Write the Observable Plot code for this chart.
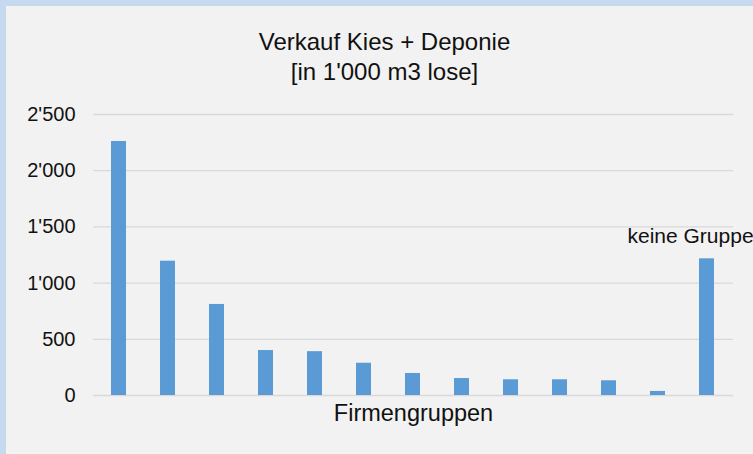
<!DOCTYPE html>
<html>
<head>
<meta charset="utf-8">
<script src="https://cdn.jsdelivr.net/npm/d3@7"></script>
<script src="https://cdn.jsdelivr.net/npm/@observablehq/plot@0.6"></script>
<style>
  html, body { margin: 0; padding: 0; background: #f2f2f2; }
  #wrap { position: relative; width: 753px; height: 454px; overflow: hidden; background: #f2f2f2; }
  #wrap svg { position: absolute; left: 0; top: 0; }
  .bt { position: absolute; left: 0; top: 0; width: 753px; height: 6px; background: #c5d9f1; }
  .bl { position: absolute; left: 0; top: 0; width: 6px; height: 454px; background: #c5d9f1; }
</style>
</head>
<body>
<div id="wrap"></div>
<script>
const groups = ["Gruppe 1", "Gruppe 2", "Gruppe 3", "Gruppe 4", "Gruppe 5", "Gruppe 6", "Gruppe 7", "Gruppe 8", "Gruppe 9", "Gruppe 10", "Gruppe 11", "Gruppe 12", "keine Gruppe"];
const values = [2260, 1195, 810, 400, 390, 287, 196, 151, 140, 140, 131, 36, 1216];
const yTicks = [0, 500, 1000, 1500, 2000, 2500];
const titleLines = ["Verkauf Kies + Deponie", "[in 1'000 m3 lose]"];
const xLabel = "Firmengruppen";
const annotation = "keine Gruppe";

const data = groups.map((g, i) => ({group: g, value: values[i]}));
const fmt = d3.formatLocale({decimal: ".", thousands: "'", grouping: [3], currency: ["", ""]}).format(",");

const chart = Plot.plot({
  width: 753,
  height: 454,
  marginLeft: 93,
  marginRight: 20,
  marginTop: 114,
  marginBottom: 59,
  style: {fontFamily: "'Liberation Sans', Arial, sans-serif", fontSize: "20px", color: "#111", background: "transparent"},
  x: {domain: groups, paddingInner: 0.69, paddingOuter: 0.345, axis: null},
  y: {domain: [0, 2500]},
  marks: [
    Plot.ruleY(yTicks, {stroke: "#d9d9d9", strokeWidth: 1.3}),
    Plot.axisY({ticks: yTicks, tickFormat: fmt, tickSize: 0, tickPadding: 18, fontSize: 20, fill: "#111", label: null}),
    Plot.barY(data, {x: "group", y: "value", fill: "#5b9bd5", inset: 0}),
    Plot.text(data.filter(d => d.group === annotation), {x: "group", y: "value", text: () => annotation, textAnchor: "start", dx: -79.5, dy: -15.6, lineAnchor: "bottom", fontSize: 21, fill: "#111"}),
    Plot.text([titleLines[0]], {frameAnchor: "top", dx: -29, dy: -64.7, lineAnchor: "bottom", fontSize: 24, fill: "#111"}),
    Plot.text([titleLines[1]], {frameAnchor: "top", dx: -29, dy: -35, lineAnchor: "bottom", fontSize: 24, fill: "#111"}),
    Plot.text([xLabel], {frameAnchor: "bottom", dy: 25.7, lineAnchor: "bottom", fontSize: 23.5, fill: "#111"})
  ]
});
const wrap = document.getElementById("wrap");
wrap.appendChild(chart);
const bt = document.createElement("div"); bt.className = "bt"; wrap.appendChild(bt);
const bl = document.createElement("div"); bl.className = "bl"; wrap.appendChild(bl);
</script>
</body>
</html>
